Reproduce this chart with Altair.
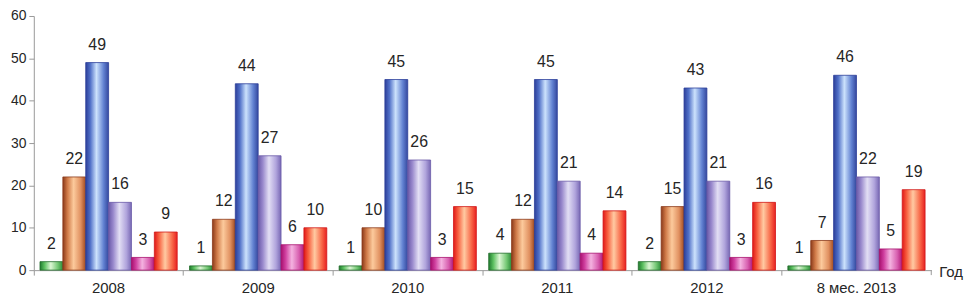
import altair as alt
import pandas as pd

years = ["2008", "2009", "2010", "2011", "2012", "8 мес. 2013"]
series = ["s1", "s2", "s3", "s4", "s5", "s6"]
s1 = [2, 1, 1, 4, 2, 1]
s2 = [22, 12, 10, 12, 15, 7]
s3 = [49, 44, 45, 45, 43, 46]
s4 = [16, 27, 26, 21, 21, 22]
s5 = [3, 6, 3, 4, 3, 5]
s6 = [9, 10, 15, 14, 16, 19]
all_vals = [s1, s2, s3, s4, s5, s6]

gradients = {
    "s1": (["#1f7a2e", "#5cc060", "#dcf6d4", "#74c874", "#2a8a38"], "#1f6a28"),
    "s2": (["#8b3a1a", "#d07a48", "#fcca9c", "#e09060", "#a04a20"], "#8b3a1a"),
    "s3": (["#2c3f9a", "#5070c8", "#cce2fc", "#6282d2", "#34489e"], "#2c3f9a"),
    "s4": (["#6a5aa8", "#9888cc", "#e2def4", "#b0a4dc", "#7868b4"], "#6a5aa8"),
    "s5": (["#a8106e", "#d040a0", "#f4b2e0", "#d860b0", "#b01878"], "#a8106e"),
    "s6": (["#e01818", "#f86040", "#ffcaa2", "#f86848", "#e82020"], "#d01818"),
}
offsets = [0, 0.2, 0.47, 0.78, 1]

rows = []
for s, vals in zip(series, all_vals):
    for y, v in zip(years, vals):
        rows.append({"year": y, "series": s, "value": v})
df = pd.DataFrame(rows)
ydf = pd.DataFrame({"year": years})

W, H = 904, 256
FONT = "Liberation Sans"
TXT = "#262626"

xscale = alt.Scale(domain=years, paddingInner=0, paddingOuter=0)
xaxis = alt.Axis(labels=False, ticks=True, bandPosition=0, tickSize=5,
                 domainColor="#999999", tickColor="#999999", title=None)
offscale = alt.Scale(domain=series, paddingInner=0, paddingOuter=0.27)
yscale = alt.Scale(domain=[0, 60])
yaxis = alt.Axis(values=[0, 10, 20, 30, 40, 50, 60], grid=False, tickSize=5,
                 domainColor="#999999", tickColor="#999999", labelPadding=3,
                 labelFontSize=14, labelColor=TXT, labelFont=FONT, title=None)

base = alt.Chart(df)
layers = []
for s in series:
    cols, edge = gradients[s]
    grad = alt.Gradient(
        gradient="linear", x1=0, x2=1, y1=0, y2=0,
        stops=[alt.GradientStop(color=c, offset=o) for c, o in zip(cols, offsets)],
    )
    layers.append(
        base.transform_filter(alt.datum.series == s)
        .mark_bar(color=grad, stroke=edge, strokeWidth=0.8)
        .encode(
            x=alt.X("year:N", scale=xscale, axis=xaxis, sort=years),
            xOffset=alt.XOffset("series:N", scale=offscale),
            y=alt.Y("value:Q", scale=yscale, axis=yaxis),
        )
    )

labels = base.mark_text(fontSize=16, font=FONT, color=TXT, baseline="alphabetic", dy=-13).encode(
    x=alt.X("year:N", scale=xscale, axis=xaxis, sort=years),
    xOffset=alt.XOffset("series:N", scale=offscale),
    y=alt.Y("value:Q", scale=yscale, axis=yaxis),
    text="value:Q",
)

xlabels = alt.Chart(ydf).mark_text(fontSize=15, font=FONT, color=TXT, baseline="alphabetic").encode(
    x=alt.X("year:N", scale=xscale, axis=xaxis, sort=years),
    y=alt.value(H + 23),
    text="year:N",
)

god = alt.Chart(ydf.head(1)).mark_text(fontSize=15, font=FONT, color=TXT, align="left", baseline="middle").encode(
    x=alt.value(W + 8), y=alt.value(H + 2), text=alt.value("Год"),
)

endtick = alt.Chart(ydf.head(1)).mark_rule(color="#999999").encode(
    x=alt.value(W), y=alt.value(H), y2=alt.value(H + 5),
)

chart = alt.layer(*layers, labels, xlabels, god, endtick).properties(
    width=W, height=H,
    autosize=alt.AutoSizeParams(type="none"),
    padding={"left": 26, "top": 7, "right": 36, "bottom": 25},
    background="white",
).configure_view(stroke=None)

chart.save("out.html", embed_options={"renderer": "svg", "actions": False})
